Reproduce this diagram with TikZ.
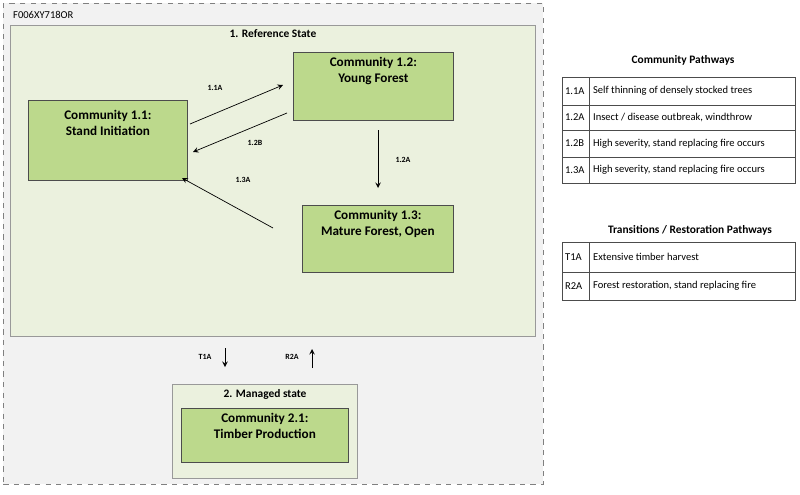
\documentclass[tikz,border=0pt]{standalone}
\usepackage{fontspec}
\setmainfont{Carlito}
\usetikzlibrary{positioning, arrows}
\definecolor{outergray}{HTML}{F2F2F2}
\definecolor{statefill}{HTML}{EBF1DE}
\definecolor{commfill}{HTML}{BCD98C}
\tikzstyle{state} = [rectangle, draw=gray!80, fill=statefill, anchor=north west, inner sep=0pt]
\tikzstyle{community} = [rectangle, draw=black!70, fill=commfill, anchor=north west, inner sep=0pt]
\tikzstyle{commtext} = [anchor=north, align=center, font=\fontsize{7.5}{9}\selectfont\bfseries, inner sep=0pt]
\tikzstyle{title} = [font=\fontsize{6.5}{7.5}\selectfont\bfseries]
\tikzstyle{pathlabel} = [font=\fontsize{4.5}{5}\selectfont\bfseries]
\tikzstyle{pathway} = [->, >=stealth, thin, black]
\tikzstyle{cell} = [rectangle, draw=black!70, anchor=north west, inner sep=0pt]
\tikzstyle{celltext} = [anchor=west, font=\fontsize{6}{7}\selectfont, inner sep=1pt]

\begin{document}
\begin{tikzpicture}[x=0.02cm, y=-0.02cm]
    \useasboundingbox (0,0) rectangle (800,494);

    % outer frame
    \node (frame) [draw=gray, dashed, fill=outergray, anchor=north west, minimum width=540*0.02cm, minimum height=481*0.02cm, inner sep=0pt] at (3,3) {};
    \node (frameid) [anchor=west, font=\fontsize{6}{7}\selectfont] at (7,15) {F006XY718OR};

    % reference state
    \node (refstate) [state, minimum width=525*0.02cm, minimum height=311*0.02cm] at (10,25) {};
    \node (reftitle) [title] at (273,34) {1. Reference State};

    \node (c11) [community, minimum width=159*0.02cm, minimum height=80*0.02cm] at (28,100) {};
    \node (c11t) [commtext, below=0.2cm of c11.north] {Community 1.1:\\Stand Initiation};
    \node (c12) [community, minimum width=160*0.02cm, minimum height=68*0.02cm] at (293,52) {};
    \node (c12t) [commtext, below=0.1cm of c12.north] {Community 1.2:\\Young Forest};
    \node (c13) [community, minimum width=151*0.02cm, minimum height=67*0.02cm] at (302,205) {};
    \node (c13t) [commtext, below=0.1cm of c13.north] {Community 1.3:\\Mature Forest, Open};

    \coordinate (a11s) at (190,124); \coordinate (a11e) at (283,85);
    \coordinate (a12bs) at (287,113); \coordinate (a12be) at (193,152);
    \coordinate (a12as) at (378,130); \coordinate (a12ae) at (378,188);
    \coordinate (a13s) at (273,228); \coordinate (a13e) at (182,178);
    \draw [pathway] (a11s) -- (a11e);
    \draw [pathway] (a12bs) -- (a12be);
    \draw [pathway] (a12as) -- (a12ae);
    \draw [pathway] (a13s) -- (a13e);
    \node (l11a) [pathlabel] at (215,88) {1.1A};
    \node (l12b) [pathlabel] at (255,143) {1.2B};
    \node (l12a) [pathlabel] at (403,160) {1.2A};
    \node (l13a) [pathlabel] at (243,180) {1.3A};

    % transitions
    \coordinate (t1s) at (225,348); \coordinate (t1e) at (225,367);
    \coordinate (r2s) at (312,368); \coordinate (r2e) at (312,349);
    \draw [pathway] (t1s) -- (t1e);
    \draw [pathway] (r2s) -- (r2e);
    \node (lt1a) [pathlabel] at (205,357) {T1A};
    \node (lr2a) [pathlabel] at (292,357) {R2A};

    % managed state
    \node (manstate) [state, minimum width=185*0.02cm, minimum height=94*0.02cm] at (172,384) {};
    \node (mantitle) [title] at (265,394) {2. Managed state};
    \node (c21) [community, minimum width=167*0.02cm, minimum height=54*0.02cm] at (181,408) {};
    \node (c21t) [commtext, below=0.1cm of c21.north] {Community 2.1:\\Timber Production};

    % legend tables
    \node (cptitle) [title] at (683,60) {Community Pathways};
    \foreach \id/\txt/\ya/\h in {1.1A/Self thinning of densely stocked trees/77/28,
                                 1.2A/{Insect / disease outbreak, windthrow}/105/25,
                                 1.2B/{High severity, stand replacing fire occurs}/130/27,
                                 1.3A/{High severity, stand replacing fire occurs}/157/26} {
        \node [cell, minimum height=\h*0.02cm, minimum width=27*0.02cm] at (562,\ya) {};
        \node [celltext] at (563,\ya+\h/2) {\id};
        \node [cell, minimum height=\h*0.02cm, minimum width=206*0.02cm] at (589,\ya) {};
        \node [celltext] at (591,\ya+\h/2) {\txt};
    }

    \node (trtitle) [title] at (690,230) {Transitions / Restoration Pathways};
    \foreach \id/\txt/\ya/\h in {T1A/Extensive timber harvest/242/30,
                                 R2A/{Forest restoration, stand replacing fire}/272/28} {
        \node [cell, minimum height=\h*0.02cm, minimum width=27*0.02cm] at (562,\ya) {};
        \node [celltext] at (563,\ya+\h/2) {\id};
        \node [cell, minimum height=\h*0.02cm, minimum width=206*0.02cm] at (589,\ya) {};
        \node [celltext] at (591,\ya+\h/2) {\txt};
    }

\end{tikzpicture}
\end{document}
